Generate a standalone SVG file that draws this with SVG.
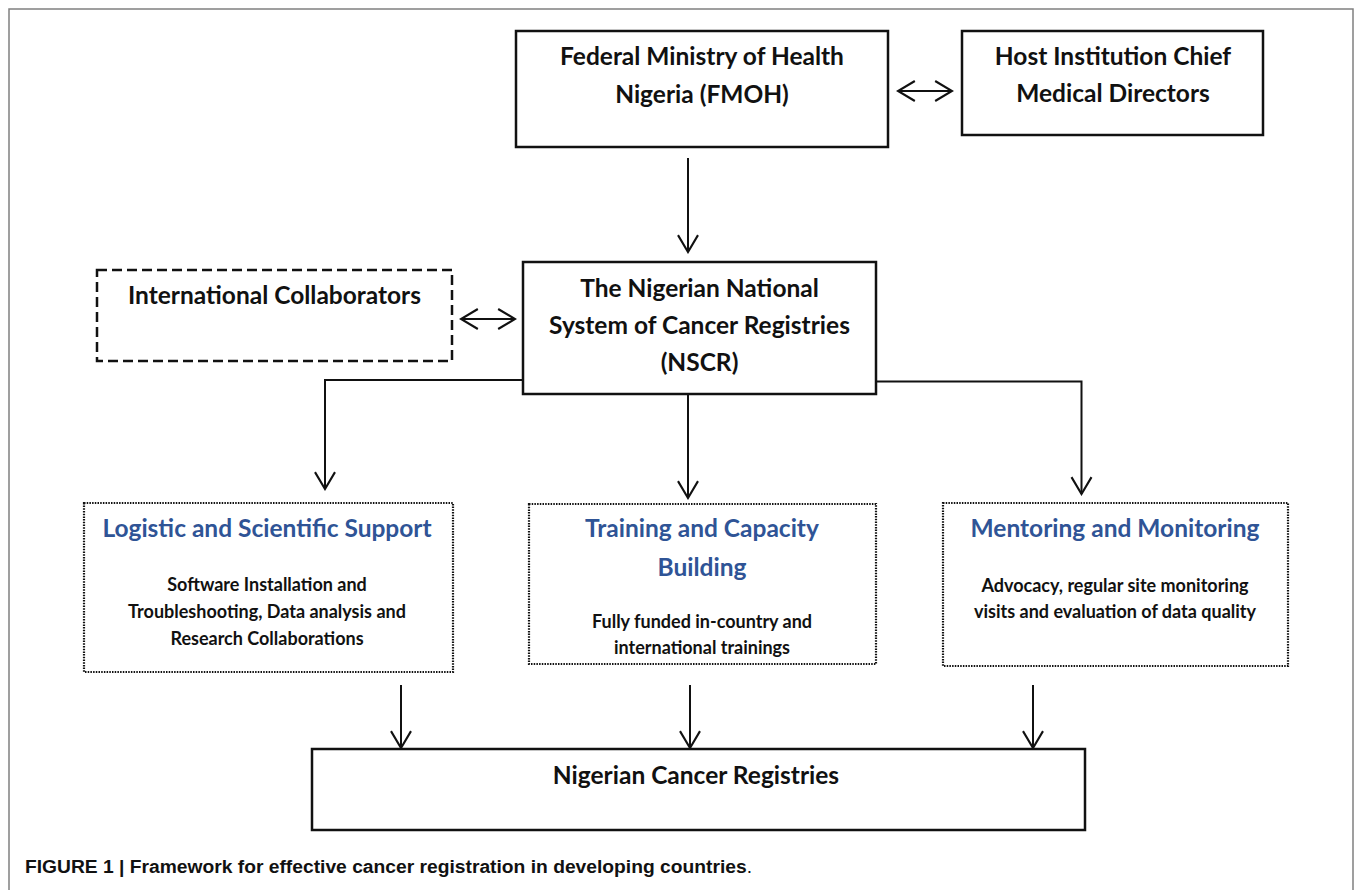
<svg xmlns="http://www.w3.org/2000/svg" width="1355" height="890" viewBox="0 0 1355 890">
<style>
.box{fill:#fff;stroke:#111;stroke-width:2.5}
.dash{fill:#fff;stroke:#111;stroke-width:2.5;stroke-dasharray:10 5}
.dot{fill:#fff;stroke:#111;stroke-width:2.2;stroke-dasharray:1.5 1.2}
.t{font-family:Lato,"Liberation Sans",sans-serif;font-weight:bold;font-size:24.5px;fill:#111;text-anchor:middle}
.h{font-family:Lato,"Liberation Sans",sans-serif;font-weight:bold;font-size:24.5px;fill:#2F5496;text-anchor:middle}
.s{font-family:Lato,"Liberation Sans",sans-serif;font-weight:bold;font-size:18px;fill:#111;text-anchor:middle}
.ln{fill:none;stroke:#111;stroke-width:2}
.cap{font-family:"Liberation Sans",Arial,sans-serif;font-weight:bold;font-size:17.5px;fill:#111}
</style>
<defs>
<marker id="ah" markerUnits="userSpaceOnUse" markerWidth="20" markerHeight="24" viewBox="-17 -11 19 22" refX="0" refY="0" orient="auto-start-reverse">
<path d="M-16,-9.5 L0,0 L-16,9.5" fill="none" stroke="#111" stroke-width="2"/>
</marker>
</defs>
<rect width="1355" height="890" fill="#fff"/>
<path d="M9,890 V9 H1353 V890" fill="none" stroke="#808080" stroke-width="1.5"/>

<g id="connectors">
<line class="ln" x1="898" y1="91" x2="952" y2="91" marker-start="url(#ah)" marker-end="url(#ah)"/>
<line class="ln" x1="688" y1="158" x2="688" y2="252" marker-end="url(#ah)"/>
<line class="ln" x1="461" y1="319" x2="515" y2="319" marker-start="url(#ah)" marker-end="url(#ah)"/>
<polyline class="ln" points="523,380 325,380 325,489" marker-end="url(#ah)"/>
<line class="ln" x1="688" y1="394" x2="688" y2="498" marker-end="url(#ah)"/>
<polyline class="ln" points="876,381.5 1081.5,381.5 1081.5,494" marker-end="url(#ah)"/>
<line class="ln" x1="401" y1="685" x2="401" y2="748" marker-end="url(#ah)"/>
<line class="ln" x1="690" y1="685" x2="690" y2="748" marker-end="url(#ah)"/>
<line class="ln" x1="1033" y1="685" x2="1033" y2="748" marker-end="url(#ah)"/>
</g>

<g id="fmoh">
<rect class="box" x="516" y="31" width="372" height="116"/>
<text class="t" x="702" y="65">Federal Ministry of Health</text>
<text class="t" x="702" y="103">Nigeria (FMOH)</text>
</g>

<g id="host">
<rect class="box" x="962" y="31" width="301" height="104"/>
<text class="t" x="1113" y="65">Host Institution Chief</text>
<text class="t" x="1113" y="102">Medical Directors</text>
</g>

<g id="intl">
<rect class="dash" x="97" y="270" width="355" height="91"/>
<text class="t" x="274.5" y="304">International Collaborators</text>
</g>

<g id="nscr">
<rect class="box" x="523" y="262" width="353" height="132"/>
<text class="t" x="699.5" y="297">The Nigerian National</text>
<text class="t" x="699.5" y="334">System of Cancer Registries</text>
<text class="t" x="699.5" y="371">(NSCR)</text>
</g>

<g id="logistic">
<rect class="dot" x="84" y="503" width="369" height="169"/>
<text class="h" x="267" y="537">Logistic and Scientific Support</text>
<text class="s" x="267" y="591">Software Installation and</text>
<text class="s" x="267" y="618">Troubleshooting, Data analysis and</text>
<text class="s" x="267" y="645">Research Collaborations</text>
</g>

<g id="training">
<rect class="dot" x="529" y="504" width="347" height="160"/>
<text class="h" x="702" y="537">Training and Capacity</text>
<text class="h" x="702" y="576">Building</text>
<text class="s" x="702" y="628">Fully funded in-country and</text>
<text class="s" x="702" y="654">international trainings</text>
</g>

<g id="mentoring">
<rect class="dot" x="943" y="503" width="345" height="163"/>
<text class="h" x="1115" y="537">Mentoring and Monitoring</text>
<text class="s" x="1115" y="592">Advocacy, regular site monitoring</text>
<text class="s" x="1115" y="618">visits and evaluation of data quality</text>
</g>

<g id="registries">
<rect class="box" x="312" y="749" width="773" height="81"/>
<text class="t" x="696" y="784">Nigerian Cancer Registries</text>
</g>

<text class="cap" x="25" y="873" textLength="727" lengthAdjust="spacingAndGlyphs">FIGURE 1 | Framework for effective cancer registration in developing countries<tspan font-weight="normal">.</tspan></text>
</svg>
